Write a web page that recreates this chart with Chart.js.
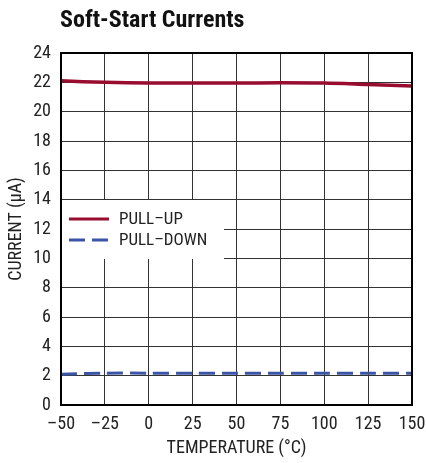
<!DOCTYPE html>
<html><head><meta charset="utf-8">
<script src="https://cdn.jsdelivr.net/npm/chart.js@4"></script>
<style>html,body{margin:0;padding:0;background:#fff}#wrap{width:426px;height:463px}</style>
</head><body><div id="wrap"><canvas id="c"></canvas></div>
<script>
const temperatures = [-50, -25, 0, 25, 50, 75, 100, 125, 150];
const pullUp = [22.1, 22.0, 21.95, 21.95, 21.95, 21.97, 21.95, 21.85, 21.75];
const pullDown = [2.1, 2.17, 2.17, 2.17, 2.17, 2.17, 2.17, 2.17, 2.17];
const xTicks = [-50, -25, 0, 25, 50, 75, 100, 125, 150];
const yTicks = [0, 2, 4, 6, 8, 10, 12, 14, 16, 18, 20, 22, 24];
const FONT = '"Liberation Sans Narrow", "Roboto Condensed", "Arial Narrow", "Liberation Sans", sans-serif';

const frameLegend = {
  id: 'frameLegend',
  afterDatasetsDraw(chart) {
    const {ctx, chartArea: a} = chart;
    ctx.save();
    const lx = a.left + 1, ly = 200, lw = 162, lh = 59;
    ctx.fillStyle = '#fff';
    ctx.fillRect(lx, ly, lw, lh);
    chart.data.datasets.forEach((ds, i) => {
      const y = 219 + i * 21;
      ctx.strokeStyle = ds.borderColor;
      ctx.lineWidth = 3;
      ctx.setLineDash(ds.borderDash || []);
      ctx.beginPath(); ctx.moveTo(69, y); ctx.lineTo(109, y); ctx.stroke();
      ctx.setLineDash([]);
      ctx.fillStyle = '#222';
      ctx.font = '17px ' + FONT;
      ctx.textBaseline = 'middle';
      ctx.fillText(ds.label, 119, y + 1);
    });
    ctx.strokeStyle = '#000';
    ctx.lineWidth = 2;
    ctx.strokeRect(a.left, a.top, a.right - a.left, a.bottom - a.top);
    ctx.fillStyle = '#111';
    ctx.font = 'bold 24px ' + FONT;
    ctx.textBaseline = 'middle';
    ctx.fillText('Soft-Start Currents', 60, 21);
    ctx.restore();
  }
};

new Chart(document.getElementById('c'), {
  type: 'line',
  data: {
    datasets: [
      { label: 'PULL–UP', data: temperatures.map((t, i) => ({x: t, y: pullUp[i]})),
        borderColor: '#980c2f', borderWidth: 3.5, pointRadius: 0, tension: 0.3, fill: false },
      { label: 'PULL–DOWN', data: temperatures.map((t, i) => ({x: t, y: pullDown[i]})),
        borderColor: '#3b55a6', borderWidth: 3, borderDash: [16, 7], pointRadius: 0, tension: 0.3, fill: false }
    ]
  },
  options: {
    responsive: true, maintainAspectRatio: false, animation: false,
    layout: { padding: { left: 0, right: 14, top: 53, bottom: 0 } },
    plugins: { legend: { display: false }, title: { display: false }, tooltip: { enabled: false } },
    scales: {
      x: {
        type: 'linear', min: -50, max: 150,
        afterBuildTicks(s) { s.ticks = xTicks.map(v => ({value: v})); },
        afterFit(s) { s.height = 58; s.paddingLeft = 0; s.paddingRight = 0; },
        ticks: { color: '#222', font: { family: FONT, size: 18 }, padding: 9, maxRotation: 0,
          callback: v => String(v).replace('-', '–') },
        grid: { color: '#333', lineWidth: 1, drawTicks: false },
        border: { display: false },
        title: { display: true, text: 'TEMPERATURE (°C)', color: '#222', font: { family: FONT, size: 18 }, padding: { top: 4, bottom: 4 } }
      },
      y: {
        min: 0, max: 24,
        afterBuildTicks(s) { s.ticks = yTicks.map(v => ({value: v})); },
        afterFit(s) { s.width = 61; s.paddingTop = 0; s.paddingBottom = 0; },
        ticks: { color: '#222', font: { family: FONT, size: 18 }, padding: 10 },
        grid: { color: '#333', lineWidth: 1, drawTicks: false },
        border: { display: false },
        title: { display: true, text: 'CURRENT (µA)', color: '#222', font: { family: FONT, size: 18 }, padding: { top: 6, bottom: 0 } }
      }
    }
  },
  plugins: [frameLegend]
});
</script></body></html>
